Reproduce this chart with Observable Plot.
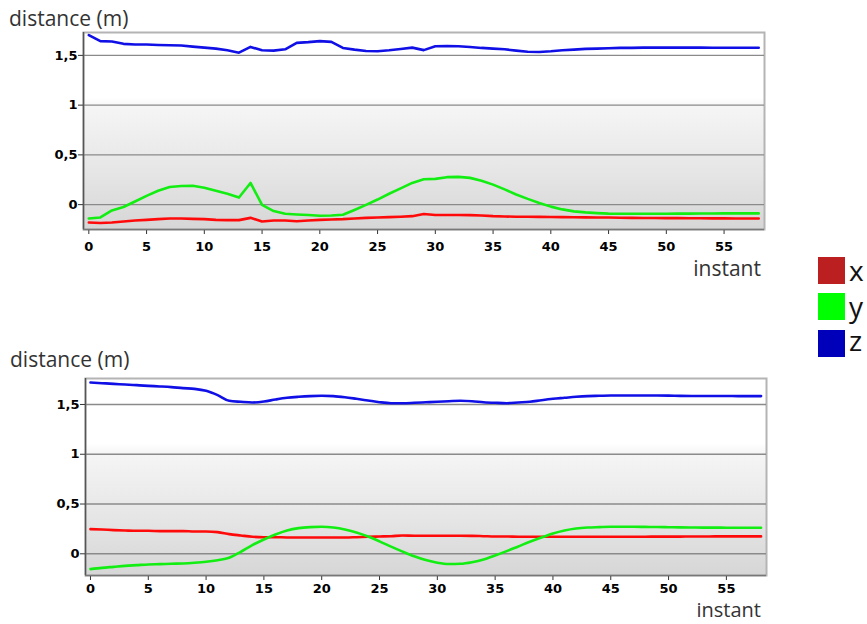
<!DOCTYPE html>
<html>
<head>
<meta charset="utf-8">
<script src="https://cdn.jsdelivr.net/npm/d3@7"></script>
<script src="https://cdn.jsdelivr.net/npm/@observablehq/plot@0.6"></script>
<style>
  html, body { margin: 0; padding: 0; background: #fff; }
  #root { position: relative; width: 867px; height: 624px; overflow: hidden; }
  .lbl { position: absolute; font-family: "Open Sans", sans-serif; color: #333; white-space: nowrap; }
  .sw { position: absolute; width: 27px; height: 27px; }
  .plotbox { position: absolute; left: 0; }
</style>
</head>
<body>
<div id="root"></div>
<script>
// ---------- data ----------
const seriesNames = ["x", "y", "z"];
const seriesColors = ["#ff0a0a", "#12ee12", "#1010e6"];
const legendColors = ["#bb1f1f", "#00ff00", "#0000bb"];
const xTicks = [0, 5, 10, 15, 20, 25, 30, 35, 40, 45, 50, 55];
const yTicks = [0, 0.5, 1, 1.5];
const instants = d3.range(59);

// top chart
const topX = [-0.180,-0.184,-0.180,-0.170,-0.160,-0.153,-0.146,-0.139,-0.139,-0.143,-0.146,-0.153,-0.156,-0.156,-0.133,-0.170,-0.160,-0.160,-0.167,-0.160,-0.153,-0.150,-0.146,-0.139,-0.133,-0.129,-0.126,-0.122,-0.116,-0.095,-0.105,-0.105,-0.105,-0.106,-0.109,-0.116,-0.119,-0.122,-0.122,-0.123,-0.124,-0.126,-0.127,-0.128,-0.129,-0.130,-0.132,-0.133,-0.134,-0.135,-0.136,-0.136,-0.137,-0.137,-0.138,-0.138,-0.139,-0.139,-0.139];
const topY = [-0.139,-0.129,-0.058,-0.024,0.031,0.088,0.139,0.177,0.187,0.190,0.170,0.139,0.109,0.071,0.218,-0.003,-0.065,-0.092,-0.099,-0.105,-0.112,-0.109,-0.102,-0.054,-0.003,0.051,0.109,0.163,0.218,0.255,0.259,0.276,0.279,0.269,0.241,0.201,0.153,0.102,0.058,0.017,-0.020,-0.048,-0.068,-0.078,-0.085,-0.090,-0.092,-0.092,-0.092,-0.092,-0.091,-0.090,-0.090,-0.089,-0.089,-0.088,-0.088,-0.088,-0.088];
const topZ = [1.704,1.643,1.639,1.616,1.609,1.609,1.605,1.602,1.599,1.588,1.578,1.568,1.551,1.527,1.585,1.551,1.548,1.561,1.626,1.633,1.643,1.636,1.575,1.558,1.544,1.541,1.551,1.565,1.578,1.553,1.592,1.595,1.592,1.585,1.575,1.568,1.561,1.548,1.537,1.534,1.541,1.551,1.558,1.565,1.568,1.571,1.575,1.575,1.578,1.578,1.578,1.578,1.578,1.578,1.577,1.577,1.577,1.577,1.577];

// bottom chart
const botX = [0.248,0.244,0.238,0.234,0.231,0.231,0.228,0.228,0.228,0.224,0.224,0.218,0.198,0.184,0.171,0.167,0.167,0.164,0.164,0.164,0.164,0.164,0.164,0.167,0.171,0.174,0.177,0.184,0.181,0.181,0.181,0.181,0.181,0.180,0.177,0.174,0.174,0.172,0.172,0.172,0.172,0.172,0.172,0.172,0.172,0.172,0.172,0.172,0.172,0.173,0.173,0.173,0.174,0.174,0.175,0.175,0.175,0.175,0.175];
const botY = [-0.154,-0.141,-0.131,-0.121,-0.114,-0.107,-0.104,-0.100,-0.097,-0.090,-0.080,-0.064,-0.040,0.020,0.087,0.144,0.194,0.234,0.258,0.268,0.271,0.264,0.245,0.214,0.174,0.125,0.072,0.022,-0.025,-0.063,-0.090,-0.103,-0.100,-0.084,-0.057,-0.017,0.027,0.074,0.121,0.164,0.204,0.234,0.254,0.264,0.268,0.271,0.271,0.271,0.270,0.269,0.267,0.265,0.264,0.263,0.263,0.262,0.262,0.262,0.262];
const botZ = [1.721,1.714,1.707,1.701,1.694,1.687,1.681,1.674,1.664,1.657,1.637,1.594,1.537,1.527,1.520,1.530,1.550,1.567,1.577,1.584,1.587,1.584,1.573,1.557,1.540,1.523,1.513,1.513,1.517,1.522,1.527,1.533,1.538,1.533,1.523,1.517,1.513,1.520,1.527,1.543,1.557,1.567,1.577,1.584,1.587,1.590,1.590,1.590,1.590,1.590,1.589,1.586,1.585,1.585,1.585,1.585,1.584,1.584,1.584];

const yTitle = "distance (m)";
const xTitle = "instant";

// ---------- helpers ----------
function toLong(xs, ys, zs) {
  const out = [];
  [xs, ys, zs].forEach((arr, k) => arr.forEach((v, i) => out.push({i: instants[i], v, s: seriesNames[k]})));
  return out;
}
const fmt = d => String(d).replace(".", ",");
const root = document.getElementById("root");

function chart(data, id, xDomain, yDomain, curve, top, marginLeft, marginRight, xPad) {
  const svg = Plot.plot({
    width: 780, height: 266,
    marginLeft, marginRight, marginTop: 32, marginBottom: 37,
    x: {domain: xDomain},
    y: {domain: yDomain},
    color: {domain: seriesNames, range: seriesColors},
    style: {fontFamily: "'DejaVu Sans', sans-serif", fontSize: "13px", fontWeight: "bold", color: "#000", background: "transparent"},
    marks: [
      Plot.frame({fill: `url(#${id})`, stroke: "#b4b4b4", strokeWidth: 2}),
      Plot.gridY(yTicks, {stroke: "#8a8a8a", strokeOpacity: 1, strokeWidth: 1.4}),
      Plot.axisY(yTicks, {tickSize: 5, tickPadding: 1, tickFormat: fmt, label: null, stroke: "#333"}),
      Plot.axisX(xTicks, {tickSize: 5, tickPadding: xPad, label: null, stroke: "#333"}),
      Plot.ruleX([xDomain[0]], {stroke: "#555", strokeWidth: 1.5}),
      Plot.ruleY([yDomain[0]], {stroke: "#777", strokeWidth: 1.5}),
      Plot.line(data, {x: "i", y: "v", stroke: "s", z: "s", strokeWidth: 2.6, curve})
    ]
  });
  const ns = "http://www.w3.org/2000/svg";
  const defs = document.createElementNS(ns, "defs");
  defs.innerHTML = `<linearGradient id="${id}" x1="0" y1="0" x2="0" y2="1">
      <stop offset="0" stop-color="#ffffff"/>
      <stop offset="0.33" stop-color="#ffffff"/>
      <stop offset="0.38" stop-color="#f5f5f5"/>
      <stop offset="0.7" stop-color="#e6e6e6"/>
      <stop offset="1" stop-color="#d6d6d6"/>
    </linearGradient>`;
  svg.insertBefore(defs, svg.firstChild);
  const box = document.createElement("div");
  box.className = "plotbox";
  box.style.top = top + "px";
  box.appendChild(svg);
  root.appendChild(box);
}

function label(text, x, baseline, size, anchor) {
  const d = document.createElement("div");
  d.className = "lbl";
  d.textContent = text;
  const lh = 0.6 * size;
  d.style.fontSize = size + "px";
  d.style.lineHeight = lh + "px";
  d.style.top = (baseline - (lh / 2 - 0.681 * size + 1.069 * size)) + "px";
  if (anchor === "end") { d.style.right = (867 - x) + "px"; d.style.textAlign = "right"; }
  else d.style.left = x + "px";
  root.appendChild(d);
  return d;
}

// ---------- charts ----------
chart(toLong(topX, topY, topZ), "bgTop", [-0.46, 58.5], [-0.25, 1.73], "linear", 0, 83, 16, 7);
chart(toLong(botX, botY, botZ), "bgBot", [-0.43, 58.47], [-0.218, 1.761], "monotone-x", 346, 85, 14, 3.5);

label(yTitle, 9, 26.7, 21);
label(xTitle, 761, 276.5, 21, "end");
label(yTitle, 10, 367.3, 21);
label(xTitle, 761, 617.8, 20, "end");

// ---------- legend ----------
const swTops = [257, 293, 330];
const lgBase = [281.7, 316.8, 351.7];
seriesNames.forEach((s, k) => {
  const sw = document.createElement("div");
  sw.className = "sw";
  sw.style.left = "818px";
  sw.style.top = swTops[k] + "px";
  sw.style.background = legendColors[k];
  root.appendChild(sw);
  const t = label(s, 849, lgBase[k], 28);
  t.style.color = "#111";
});
</script>
</body>
</html>
